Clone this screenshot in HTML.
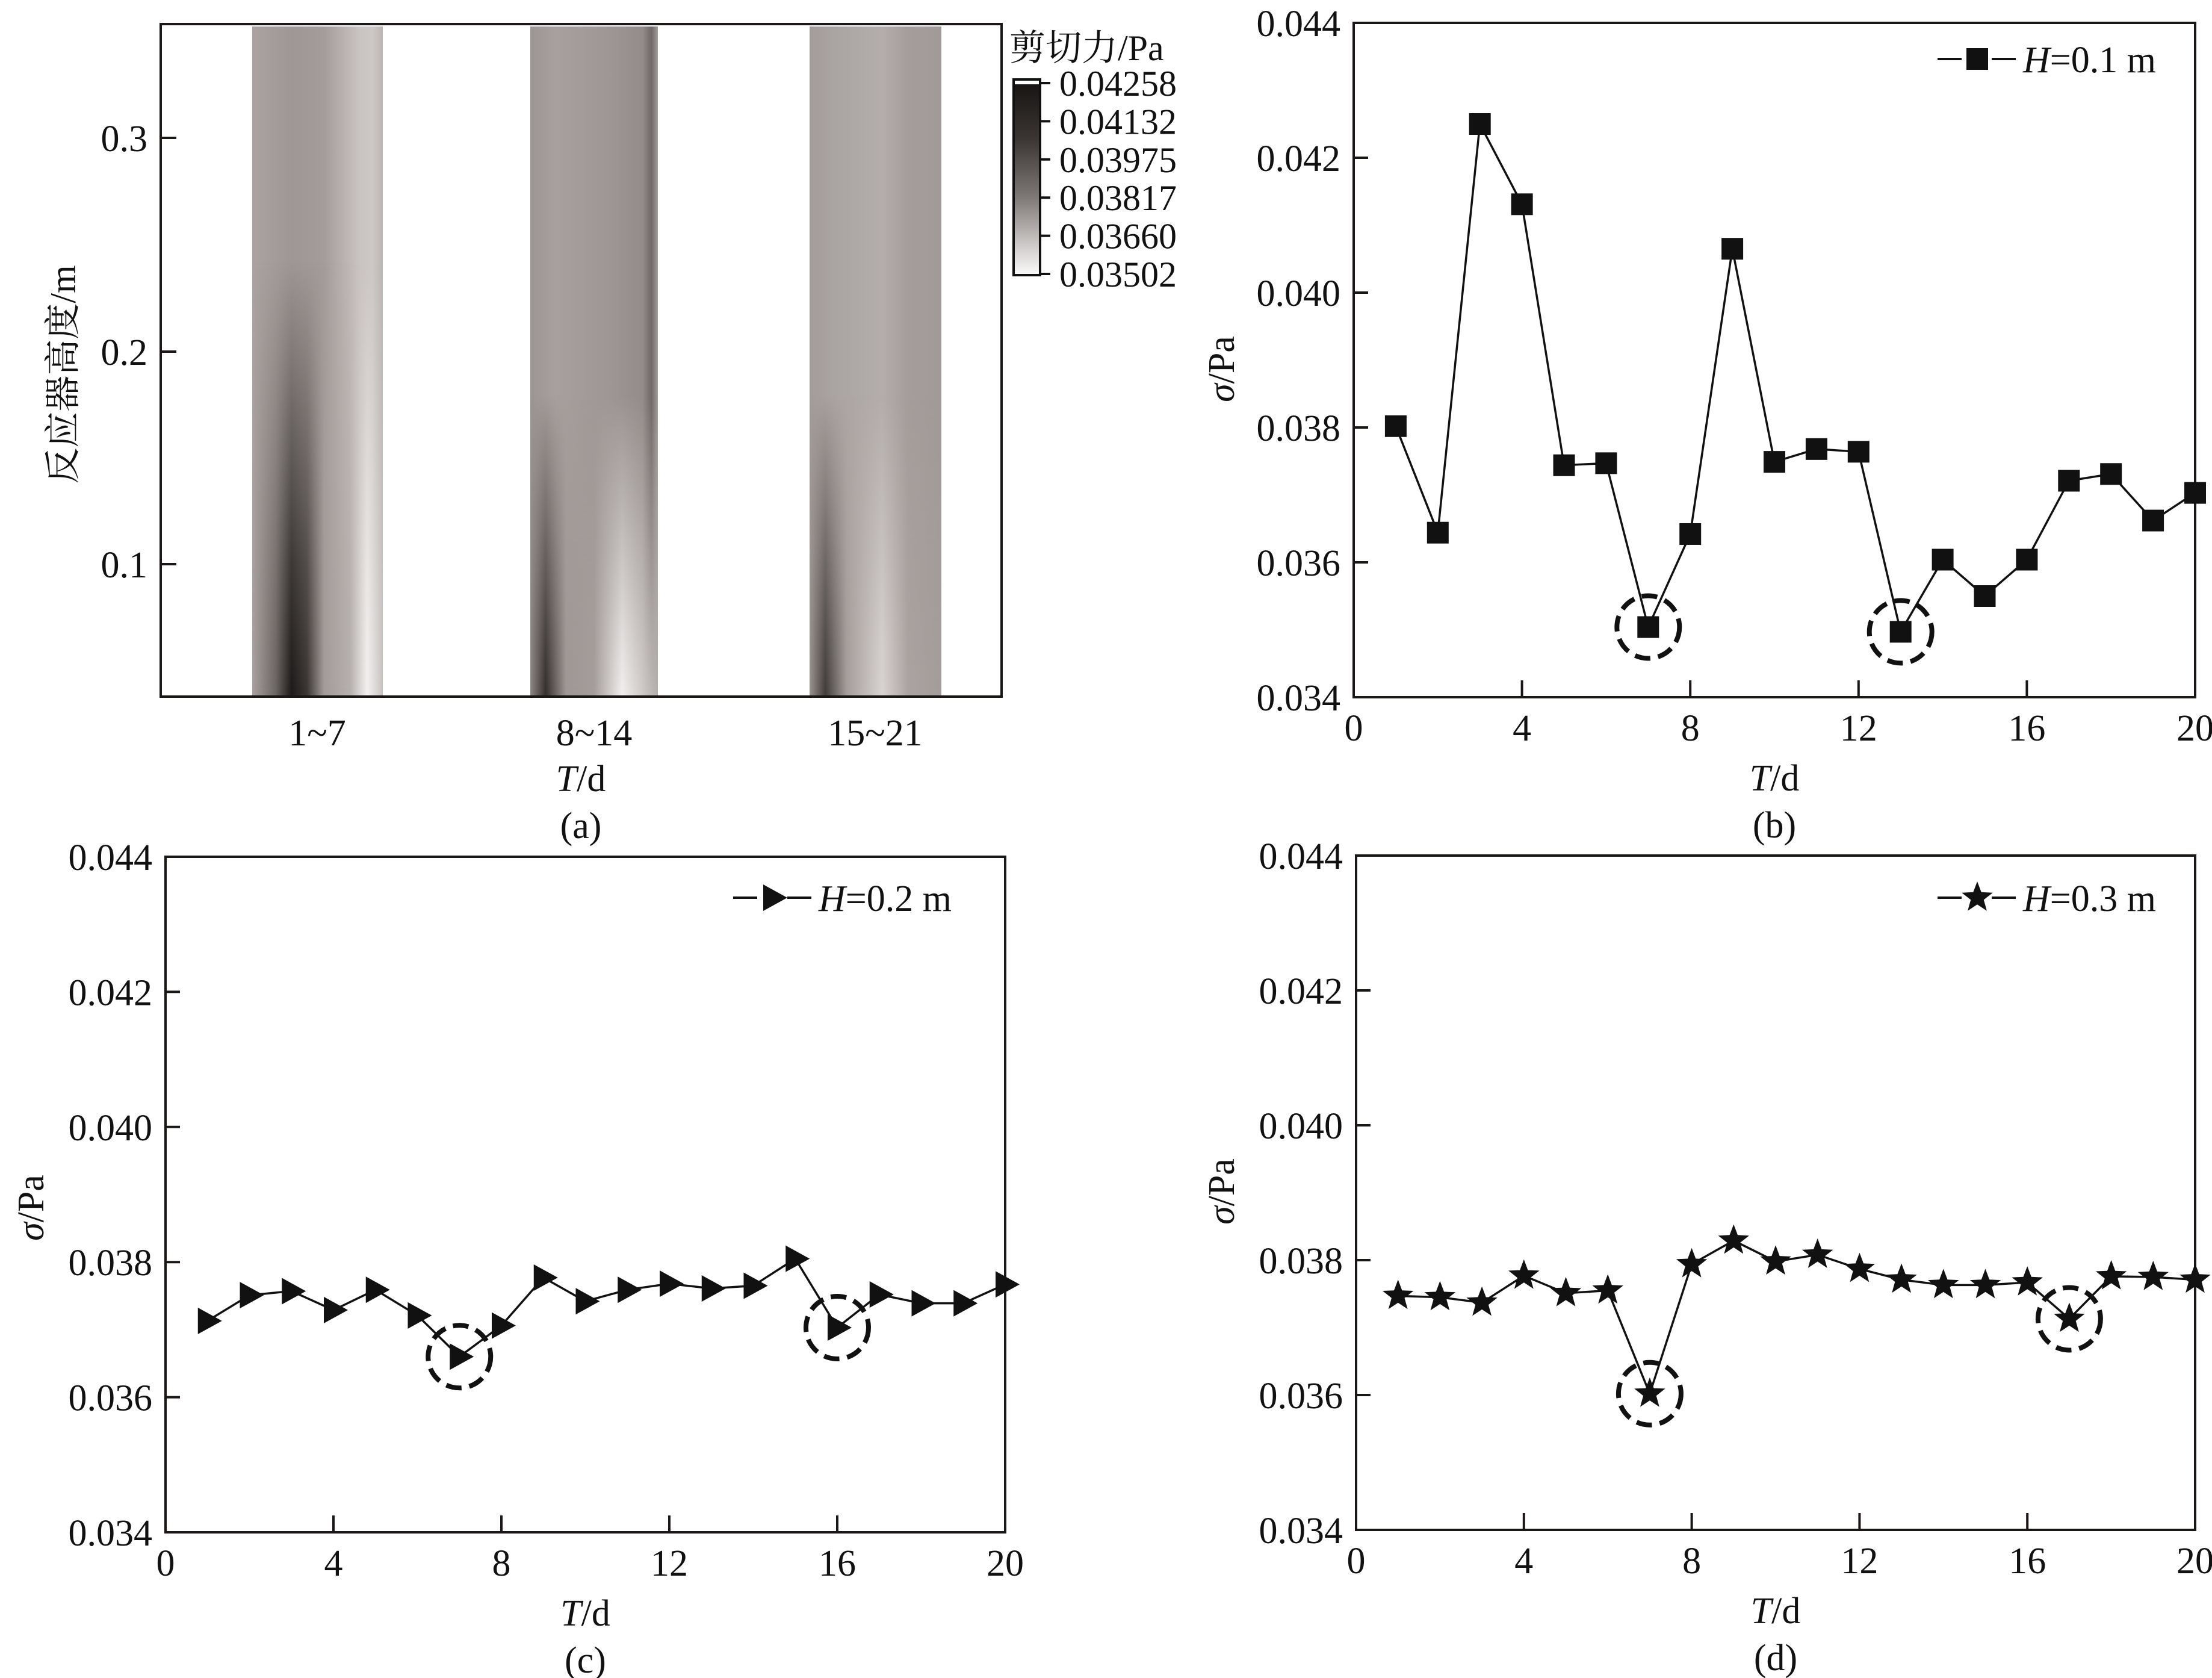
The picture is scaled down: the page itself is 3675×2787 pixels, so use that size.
<!DOCTYPE html>
<html><head><meta charset="utf-8"><style>
html,body{margin:0;padding:0;background:#fff;}
svg{display:block;}
text{font-family:"Liberation Serif","Noto Serif CJK SC",serif;fill:#111;font-stretch:condensed;}
</style></head><body>
<svg id="fig" width="3675" height="2787" viewBox="0 0 3675 2787" xmlns="http://www.w3.org/2000/svg">
<defs>
  <linearGradient id="c1top" x1="0" x2="1" y1="0" y2="0">
    <stop offset="0" stop-color="#aaa3a1"/><stop offset="0.3" stop-color="#9e9795"/><stop offset="0.55" stop-color="#a39c9a"/><stop offset="0.82" stop-color="#c9c3c1"/><stop offset="0.92" stop-color="#cdc8c6"/><stop offset="1" stop-color="#bbb6b4"/>
  </linearGradient>
  <linearGradient id="c1bot" x1="0" x2="1" y1="0" y2="0">
    <stop offset="0" stop-color="#a8a19f"/><stop offset="0.18" stop-color="#6a6462"/><stop offset="0.3" stop-color="#1c1918"/><stop offset="0.42" stop-color="#3a3533"/><stop offset="0.55" stop-color="#a29b99"/><stop offset="0.75" stop-color="#b5afad"/><stop offset="0.88" stop-color="#f3f1f0"/><stop offset="1" stop-color="#c8c3c1"/>
  </linearGradient>
  <linearGradient id="c2top" x1="0" x2="1" y1="0" y2="0">
    <stop offset="0" stop-color="#9c9593"/><stop offset="0.2" stop-color="#a7a09e"/><stop offset="0.6" stop-color="#9e9795"/><stop offset="0.88" stop-color="#938c8a"/><stop offset="0.95" stop-color="#6f6967"/><stop offset="1" stop-color="#a29b99"/>
  </linearGradient>
  <linearGradient id="c2bot" x1="0" x2="1" y1="0" y2="0">
    <stop offset="0" stop-color="#8e8785"/><stop offset="0.12" stop-color="#332e2c"/><stop offset="0.28" stop-color="#9e9795"/><stop offset="0.5" stop-color="#a49d9b"/><stop offset="0.72" stop-color="#f1efee"/><stop offset="0.88" stop-color="#cfcac8"/><stop offset="1" stop-color="#b2acaa"/>
  </linearGradient>
  <linearGradient id="c3top" x1="0" x2="1" y1="0" y2="0">
    <stop offset="0" stop-color="#a39c9a"/><stop offset="0.2" stop-color="#aaa4a2"/><stop offset="0.55" stop-color="#b3adab"/><stop offset="0.75" stop-color="#a49d9b"/><stop offset="1" stop-color="#a19a98"/>
  </linearGradient>
  <linearGradient id="c3bot" x1="0" x2="1" y1="0" y2="0">
    <stop offset="0" stop-color="#99928f"/><stop offset="0.12" stop-color="#403b39"/><stop offset="0.28" stop-color="#a39c9a"/><stop offset="0.55" stop-color="#d9d4d2"/><stop offset="0.75" stop-color="#aaa3a1"/><stop offset="1" stop-color="#a39c9a"/>
  </linearGradient>
  <linearGradient id="fadeHi" x1="0" x2="0" y1="0" y2="1">
    <stop offset="0.35" stop-color="#fff" stop-opacity="0"/><stop offset="0.8" stop-color="#fff" stop-opacity="0.75"/><stop offset="1" stop-color="#fff" stop-opacity="1"/>
  </linearGradient>
  <linearGradient id="fadeLo" x1="0" x2="0" y1="0" y2="1">
    <stop offset="0.55" stop-color="#fff" stop-opacity="0"/><stop offset="0.9" stop-color="#fff" stop-opacity="0.8"/><stop offset="1" stop-color="#fff" stop-opacity="1"/>
  </linearGradient>
  <mask id="m1"><rect x="0" y="44" width="1800" height="1113" fill="url(#fadeHi)"/></mask>
  <mask id="m2"><rect x="0" y="44" width="1800" height="1113" fill="url(#fadeLo)"/></mask>
  <linearGradient id="cbar" x1="0" x2="0" y1="0" y2="1">
    <stop offset="0" stop-color="#151211"/><stop offset="0.3" stop-color="#3a3533"/><stop offset="0.6" stop-color="#7d7775"/><stop offset="0.85" stop-color="#cfcbca"/><stop offset="1" stop-color="#fbfafa"/>
  </linearGradient>
</defs>

<g>
  <rect x="419" y="44" width="217" height="1113" fill="url(#c1top)"/>
  <rect x="419" y="44" width="217" height="1113" fill="url(#c1bot)" mask="url(#m1)"/>
  <rect x="881" y="44" width="212" height="1113" fill="url(#c2top)"/>
  <rect x="881" y="44" width="212" height="1113" fill="url(#c2bot)" mask="url(#m2)"/>
  <rect x="1345" y="44" width="219" height="1113" fill="url(#c3top)"/>
  <rect x="1345" y="44" width="219" height="1113" fill="url(#c3bot)" mask="url(#m2)"/>
  <rect x="267" y="40" width="1397" height="1117" fill="none" stroke="#1a1716" stroke-width="4"/>
  <g stroke="#1a1716" stroke-width="4">
    <line x1="267" y1="229" x2="293" y2="229"/><line x1="267" y1="584" x2="293" y2="584"/><line x1="267" y1="937" x2="293" y2="937"/>
  </g>
  <g font-size="62" text-anchor="end">
    <text x="245" y="251">0.3</text>
    <text x="245" y="606">0.2</text>
    <text x="245" y="959">0.1</text>
  </g>
  <g font-size="62" text-anchor="middle">
    <text x="527" y="1238">1~7</text>
    <text x="987" y="1238">8~14</text>
    <text x="1454" y="1238">15~21</text>
    <text x="965" y="1314"><tspan font-style="italic">T</tspan>/d</text>
    <text x="965" y="1392">(a)</text>
  </g>
  <text font-size="60" text-anchor="middle" transform="translate(125,622) rotate(-90)">反应器高度/m</text>
  <g>
    <text x="1677" y="100" font-size="60">剪切力/Pa</text>
    <rect x="1684" y="132" width="44" height="325" fill="url(#cbar)" stroke="#111" stroke-width="4"/>
    <rect x="1686" y="134" width="40" height="6" fill="#fff"/>
    <g id="cbticks" stroke="#111" stroke-width="4"></g>
    <g id="cblabels" font-size="60"></g>
  </g>
</g>
<g id="panels"></g>
</svg>
<script>
var cbLabels = ["0.04258","0.04132","0.03975","0.03817","0.03660","0.03502"];
var daysB = [1,2,3,4,5,6,7,8,9,10,11,12,13,14,15,16,17,18,19,20];
var sigmaB = [0.03802,0.03644,0.04250,0.04131,0.03744,0.03747,0.03504,0.03642,0.04065,0.03749,0.03768,0.03764,0.03497,0.03604,0.03550,0.03604,0.03721,0.03731,0.03662,0.03703];
var circledB = [7,13];
var daysC = [1,2,3,4,5,6,7,8,9,10,11,12,13,14,15,16,17,18,19,20];
var sigmaC = [0.03713,0.03751,0.03757,0.03729,0.03759,0.03721,0.03660,0.03706,0.03777,0.03742,0.03759,0.03768,0.03761,0.03765,0.03805,0.03703,0.03752,0.03739,0.03739,0.03767];
var circledC = [7,16];
var daysD = [1,2,3,4,5,6,7,8,9,10,11,12,13,14,15,16,17,18,19,20];
var sigmaD = [0.03747,0.03745,0.03737,0.03777,0.03751,0.03755,0.03602,0.03794,0.03829,0.03798,0.03808,0.03787,0.03771,0.03763,0.03763,0.03767,0.03713,0.03776,0.03775,0.03771];
var circledD = [7,17];
var xTicks = [0,4,8,12,16,20];
var yTicks = [0.034,0.036,0.038,0.040,0.042,0.044];
var yTickLabels = ["0.034","0.036","0.038","0.040","0.042","0.044"];

var NS = "http://www.w3.org/2000/svg";
function mk(tag, attrs, parent){ var e=document.createElementNS(NS,tag); for(var k in attrs) e.setAttribute(k,attrs[k]); if(parent) parent.appendChild(e); return e; }

var cbt=document.getElementById('cbticks'), cbl=document.getElementById('cblabels');
cbLabels.forEach(function(l,i){
  var y = 138 + i*(455-138)/(cbLabels.length-1);
  var t = mk('line',{x1:1728,y1:y,x2:1745,y2:y},cbt);
  
  
  var tx = mk('text',{x:1760,y:y+21},cbl); tx.textContent=l;
  
  
});

function starPath(cx,cy,R){ var r=R*0.42, d=''; for(var i=0;i<10;i++){ var a=-Math.PI/2+i*Math.PI/5, rr=i%2?r:R; d+=(i?'L':'M')+(cx+rr*Math.cos(a)).toFixed(1)+' '+(cy+rr*Math.sin(a)).toFixed(1);} return d+'Z'; }
function marker(g,type,x,y){
  var m;
  if(type==='square') m=mk('rect',{x:x-18,y:y-18,width:36,height:36,fill:'#111'},g);
  else if(type==='tri') m=mk('path',{d:'M'+(x-16)+' '+(y-22)+'L'+(x+24)+' '+y+'L'+(x-16)+' '+(y+22)+'Z',fill:'#111'},g);
  else m=mk('path',{d:starPath(x,y,27),fill:'#111'},g);
  return m;
}

function panel(cfg){
  var root=document.getElementById('panels');
  var g=mk('g',{},root);
  
  
  var L=cfg.L,R=cfg.R,T=cfg.T,B=cfg.B;
  function sx(v){return L+(v-0)/(20-0)*(R-L);}
  function sy(v){return B-(v-0.034)/(0.044-0.034)*(B-T);}
  var fr=mk('rect',{x:L,y:T,width:R-L,height:B-T,fill:'none',stroke:'#1a1716','stroke-width':4},g);
  
  
  xTicks.forEach(function(v){
    var x=sx(v);
    if(v>0&&v<20){ var tl=mk('line',{x1:x,y1:B,x2:x,y2:B-28,stroke:'#1a1716','stroke-width':4},g);
      
       }
    var t=mk('text',{x:x,y:B+72,'font-size':62,'text-anchor':'middle'},g); t.textContent=String(v);
    
    
  });
  yTicks.forEach(function(v,i){
    var y=sy(v);
    if(i>0&&i<yTicks.length-1){ var tl=mk('line',{x1:L,y1:y,x2:L+24,y2:y,stroke:'#1a1716','stroke-width':4},g);
      
       }
    var t=mk('text',{x:L-22,y:y+22,'font-size':62,'text-anchor':'end'},g); t.textContent=yTickLabels[i];
    
    
  });
  var xt=mk('text',{x:(L+R)/2,y:B+155,'font-size':62,'text-anchor':'middle'},g);
  xt.innerHTML='<tspan font-style="italic">T</tspan>/d';
  
  
  var pl=mk('text',{x:(L+R)/2,y:B+233,'font-size':62,'text-anchor':'middle'},g); pl.textContent='('+cfg.id+')';
  
  
  var yt=mk('text',{'font-size':62,'text-anchor':'middle',transform:'translate('+cfg.ytx+','+cfg.yty+') rotate(-90)'},g);
  yt.innerHTML='<tspan font-style="italic">σ</tspan>/Pa';
  
  
  var pts=cfg.days.map(function(d,i){return sx(d).toFixed(1)+','+sy(cfg.vals[i]).toFixed(1);}).join(' ');
  var pline=mk('polyline',{points:pts,fill:'none',stroke:'#111','stroke-width':3.5},g);
  
  
  cfg.days.forEach(function(d,i){
    var m=marker(g,cfg.marker,sx(d),sy(cfg.vals[i]));
    
    
  });
  cfg.circled.forEach(function(d){
    var i=cfg.days.indexOf(d);
    var c=mk('circle',{cx:sx(d),cy:sy(cfg.vals[i]),r:52,fill:'none',stroke:'#111','stroke-width':8,'stroke-dasharray':'26 13'},g);
    
    
  });
  var lg=mk('g',{},g);
  
  
  var ly=cfg.legY;
  mk('line',{x1:cfg.legX,y1:ly,x2:cfg.legX+130,y2:ly,stroke:'#111','stroke-width':4,'stroke-dasharray':'40 14 22 14 40'},lg);
  marker(lg,cfg.marker,cfg.legX+66,ly);
  var lt=mk('text',{x:cfg.legX+142,y:ly+22,'font-size':62},lg);
  lt.innerHTML='<tspan font-style="italic">H</tspan>='+cfg.label;
}

panel({id:'b',L:2249,R:3647,T:38,B:1158,days:daysB,vals:sigmaB,circled:circledB,marker:'square',legX:3219,legY:98,label:'0.1 m',ytx:2050,yty:613});
panel({id:'c',L:275,R:1670,T:1423,B:2545,days:daysC,vals:sigmaC,circled:circledC,marker:'tri',legX:1218,legY:1491,label:'0.2 m',ytx:72,yty:2006});
panel({id:'d',L:2253,R:3647,T:1421,B:2541,days:daysD,vals:sigmaD,circled:circledD,marker:'star',legX:3219,legY:1491,label:'0.3 m',ytx:2050,yty:1979});
</script>
</body></html>
